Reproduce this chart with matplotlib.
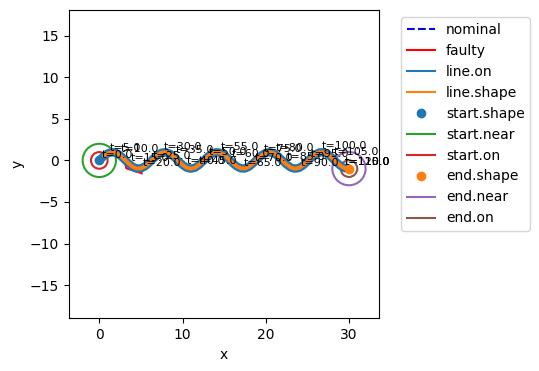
import matplotlib
matplotlib.use('Agg')
import matplotlib.pyplot as plt
from matplotlib.lines import Line2D
from matplotlib.patches import Circle

# path samples
path_x = [0.0, 0.5, 1.0, 1.5, 2.0, 2.5, 3.0, 3.5, 4.0, 4.5, 5.0, 5.5, 6.0, 6.5, 7.0, 7.5,
          8.0, 8.5, 9.0, 9.5, 10.0, 10.5, 11.0, 11.5, 12.0, 12.5, 13.0, 13.5, 14.0, 14.5,
          15.0, 15.5, 16.0, 16.5, 17.0, 17.5, 18.0, 18.5, 19.0, 19.5, 20.0, 20.5, 21.0,
          21.5, 22.0, 22.5, 23.0, 23.5, 24.0, 24.5, 25.0, 25.5, 26.0, 26.5, 27.0, 27.5,
          28.0, 28.5, 29.0, 29.5, 30.0]
path_y = [0.00, 0.48, 0.84, 1.00, 0.91, 0.60, 0.14, -0.35, -0.76, -0.98, -0.96, -0.71,
          -0.28, 0.22, 0.66, 0.94, 0.99, 0.80, 0.41, -0.08, -0.54, -0.88, -1.00, -0.88,
          -0.54, -0.07, 0.42, 0.80, 0.99, 0.93, 0.65, 0.21, -0.29, -0.71, -0.96, -0.98,
          -0.75, -0.34, 0.15, 0.61, 0.91, 1.00, 0.84, 0.47, -0.01, -0.49, -0.85, -1.00,
          -0.91, -0.59, -0.13, 0.36, 0.76, 0.98, 0.96, 0.71, 0.27, -0.23, -0.66, -0.94,
          -0.99]

faulty_x = [0.0, 0.5, 1.0, 1.5, 2.0, 2.5, 3.0, 3.25, 5.1]
faulty_y = [0.00, 0.48, 0.84, 1.00, 0.91, 0.60, 0.14, -0.95, -1.55]

# time stamps along the trajectory
t_vals = [0, 5, 10, 15, 20, 25, 30, 35, 40, 45, 50, 55, 60, 65, 70, 75, 80, 85, 90,
          95, 100, 105, 110, 115, 120]
t_x = [0.0, 0.95, 2.35, 3.55, 5.0, 6.15, 7.55, 8.9, 10.25, 11.65, 12.95, 14.4, 15.65,
       17.15, 18.4, 19.55, 21.0, 22.3, 23.9, 25.15, 26.5, 27.9, 29.2, 29.2, 29.2]
t_y = [0.0, 0.81, 0.71, -0.40, -0.96, -0.13, 0.95, 0.50, -0.73, -0.79, 0.37, 0.94, 0.06,
       -0.99, -0.44, 0.65, 0.84, -0.30, -0.95, 0.02, 0.98, 0.37, -0.84, -0.84, -0.84]

start = (0.0, 0.0)
end = (30.0, -0.99)
near_r = 2.0
on_r = 1.0

fig = plt.figure(figsize=(5.39, 3.71), dpi=100)
ax = fig.add_axes([0.128, 0.142, 0.575, 0.830])

ax.plot(path_x, path_y, 'b--', label='nominal')
ax.plot(faulty_x, faulty_y, 'r', label='faulty')
ax.plot(path_x, path_y, color='C0', lw=6, solid_capstyle='round', label='line.on')
ax.plot(path_x, path_y, color='C1', lw=2.8, solid_capstyle='round', label='line.shape')
ax.scatter([start[0]], [start[1]], color='C0', zorder=3, label='start.shape')
ax.add_patch(Circle(start, near_r, fill=False, color='C2', lw=1.5))
ax.add_patch(Circle(start, on_r, fill=False, color='C3', lw=1.5))
ax.scatter([end[0]], [end[1]], color='C1', zorder=3, label='end.shape')
ax.add_patch(Circle(end, near_r, fill=False, color='C4', lw=1.5))
ax.add_patch(Circle(end, on_r, fill=False, color='C5', lw=1.5))

for t, x, y in zip(t_vals, t_x, t_y):
    ax.annotate('t=%.1f' % t, (x, y), xytext=(1.5, 2), textcoords='offset points',
                fontsize=8, zorder=5)

ax.set_xlim(-3.64, 33.6)
ax.set_ylim(-19.0, 18.05)
ax.set_xlabel('x')
ax.set_ylabel('y')

handles = [
    Line2D([], [], color='b', ls='--'),
    Line2D([], [], color='r'),
    Line2D([], [], color='C0'),
    Line2D([], [], color='C1'),
    Line2D([], [], color='C0', marker='o', ls='none', markersize=6),
    Line2D([], [], color='C2'),
    Line2D([], [], color='C3'),
    Line2D([], [], color='C1', marker='o', ls='none', markersize=6),
    Line2D([], [], color='C4'),
    Line2D([], [], color='C5'),
]
names = ['nominal', 'faulty', 'line.on', 'line.shape', 'start.shape', 'start.near',
         'start.on', 'end.shape', 'end.near', 'end.on']
ax.legend(handles, names, bbox_to_anchor=(1.05, 1), loc='upper left')

plt.savefig('out.png')
